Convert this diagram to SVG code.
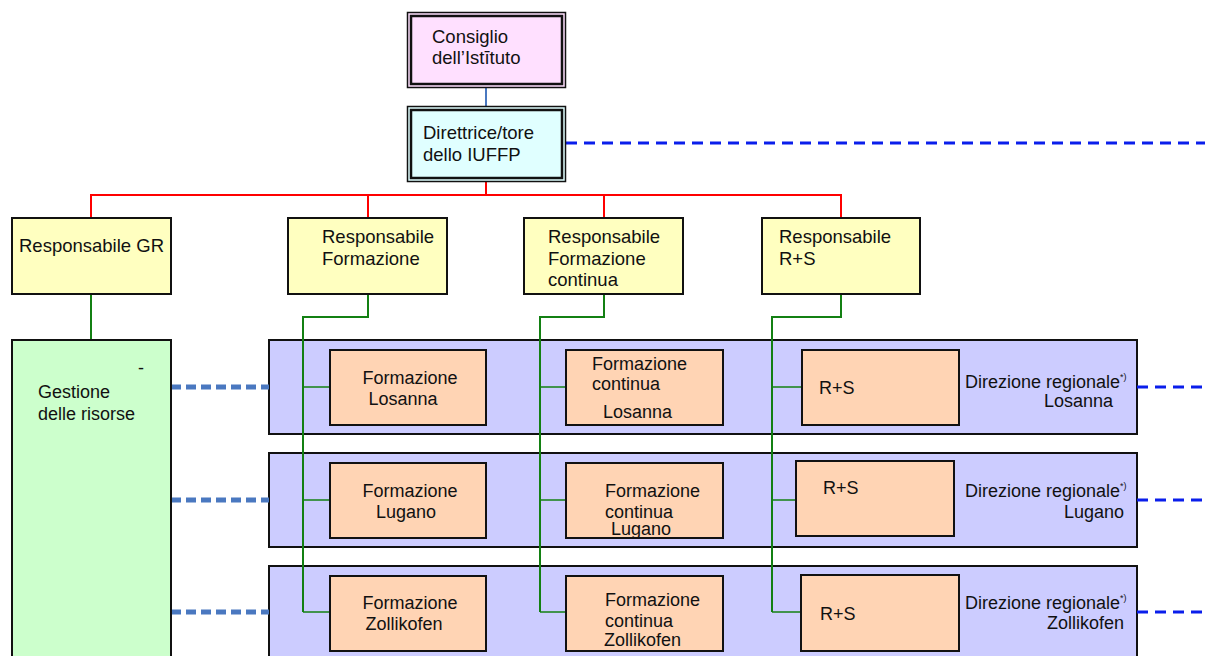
<svg xmlns="http://www.w3.org/2000/svg" width="1205" height="656" viewBox="0 0 1205 656">
<style>
text{font-family:"Liberation Sans",Arial,sans-serif;font-size:18px;fill:#111}
.y text,text.big{font-size:18.5px}
.box{stroke:#111;stroke-width:2}
.yellow{fill:#ffffc0}
.peach{fill:#ffd4b4}
.panel{fill:#ccccff;stroke:#111;stroke-width:2}
.red{stroke:#ff0000;stroke-width:2;fill:none}
.green{stroke:#138013;stroke-width:2;fill:none}
.gthin{stroke:#138013;stroke-width:1.5;fill:none}
.bdash{stroke:#4a78c0;stroke-width:5;stroke-dasharray:10 5;fill:none}
.rdash{stroke:#0a1eeb;stroke-width:3;stroke-dasharray:11 7;fill:none}
.sup{font-size:9px}
</style>
<rect width="1205" height="656" fill="#fff"/>

<g id="panels">
<rect class="panel" x="269" y="340" width="868" height="94"/>
<rect class="panel" x="269" y="453" width="868" height="94"/>
<rect class="panel" x="269" y="566" width="868" height="94"/>
</g>

<g id="connectors">
<line x1="486" y1="87" x2="486" y2="106" stroke="#4a78c0" stroke-width="2"/>
<path class="red" d="M486 182V195M91 218V195H841V218M368 195V218M604 195V218"/>
<path class="green" d="M91 294V340"/>
<path class="green" d="M368 294V317H303V612"/>
<path class="green" d="M604 294V317H540V612"/>
<path class="green" d="M841 294V317H772V612"/>
<path class="gthin" d="M303 387H330M303 500H330M303 612H330M540 387H566M540 500H566M540 612H566M772 387H801M772 500H796M772 612H801"/>
<path class="bdash" d="M171 387H269M171 500H269M171 612H269"/>
<path class="rdash" d="M566 143H1205M1137 387H1205M1137 500H1205M1137 612H1205"/>
</g>

<g id="consiglio">
<rect x="407.5" y="12.5" width="158" height="75" fill="#ffe0ff" stroke="#111" stroke-width="1.5"/>
<rect x="411" y="16" width="151" height="68" fill="#ffe0ff" stroke="#111" stroke-width="2.5"/>
<text x="432" y="43" class="big">Consiglio</text>
<text x="432" y="64" class="big">dell’Istītuto</text>
</g>

<g id="direttrice">
<rect x="407.5" y="106.5" width="158" height="75" fill="#e0ffff" stroke="#111" stroke-width="1.5"/>
<rect x="411" y="110" width="151" height="68" fill="#e0ffff" stroke="#111" stroke-width="2.5"/>
<text x="423" y="139" class="big">Direttrice/tore</text>
<text x="423" y="161" class="big">dello IUFFP</text>
</g>

<g id="resp-gr" class="y">
<rect class="box yellow" x="12" y="218" width="159" height="76"/>
<text x="19" y="252">Responsabile GR</text>
</g>
<g id="resp-formazione" class="y">
<rect class="box yellow" x="288" y="218" width="159" height="76"/>
<text x="322" y="243">Responsabile</text>
<text x="322" y="265">Formazione</text>
</g>
<g id="resp-fc" class="y">
<rect class="box yellow" x="524" y="218" width="159" height="76"/>
<text x="548" y="243">Responsabile</text>
<text x="548" y="265">Formazione</text>
<text x="548" y="286">continua</text>
</g>
<g id="resp-rs" class="y">
<rect class="box yellow" x="762" y="218" width="158" height="76"/>
<text x="779" y="243">Responsabile</text>
<text x="779" y="265">R+S</text>
</g>

<g id="gestione">
<rect class="box" x="12" y="340" width="159" height="330" fill="#ccffcc"/>
<text x="138" y="374">-</text>
<text x="38" y="398">Gestione</text>
<text x="38" y="420">delle risorse</text>
</g>

<g id="form-losanna">
<rect class="box peach" x="330" y="350" width="156" height="75"/>
<text x="410" y="384" text-anchor="middle">Formazione</text>
<text x="403" y="405" text-anchor="middle">Losanna</text>
</g>
<g id="fc-losanna">
<rect class="box peach" x="566" y="350" width="157" height="75"/>
<text x="592" y="370">Formazione</text>
<text x="592" y="390">continua</text>
<text x="603" y="418">Losanna</text>
</g>
<g id="rs-losanna">
<rect class="box peach" x="802" y="350" width="157" height="75"/>
<text x="819" y="394">R+S</text>
</g>
<g id="dr-losanna">
<text x="965" y="388">Direzione regionale<tspan class="sup" dy="-8">*)</tspan></text>
<text x="1113" y="407" text-anchor="end">Losanna</text>
</g>

<g id="form-lugano">
<rect class="box peach" x="330" y="463" width="156" height="75"/>
<text x="410" y="497" text-anchor="middle">Formazione</text>
<text x="406" y="518" text-anchor="middle">Lugano</text>
</g>
<g id="fc-lugano">
<rect class="box peach" x="566" y="463" width="157" height="75"/>
<text x="605" y="497">Formazione</text>
<text x="605" y="518">continua</text>
<text x="611" y="535">Lugano</text>
</g>
<g id="rs-lugano">
<rect class="box peach" x="796" y="461" width="158" height="75"/>
<text x="823" y="494">R+S</text>
</g>
<g id="dr-lugano">
<text x="965" y="497">Direzione regionale<tspan class="sup" dy="-8">*)</tspan></text>
<text x="1124" y="518" text-anchor="end">Lugano</text>
</g>

<g id="form-zollikofen">
<rect class="box peach" x="330" y="576" width="156" height="75"/>
<text x="410" y="609" text-anchor="middle">Formazione</text>
<text x="404" y="630" text-anchor="middle">Zollikofen</text>
</g>
<g id="fc-zollikofen">
<rect class="box peach" x="566" y="576" width="157" height="75"/>
<text x="605" y="606">Formazione</text>
<text x="605" y="627">continua</text>
<text x="604" y="646">Zollikofen</text>
</g>
<g id="rs-zollikofen">
<rect class="box peach" x="801" y="575" width="158" height="76"/>
<text x="820" y="620">R+S</text>
</g>
<g id="dr-zollikofen">
<text x="965" y="609">Direzione regionale<tspan class="sup" dy="-8">*)</tspan></text>
<text x="1124" y="629" text-anchor="end">Zollikofen</text>
</g>
</svg>
